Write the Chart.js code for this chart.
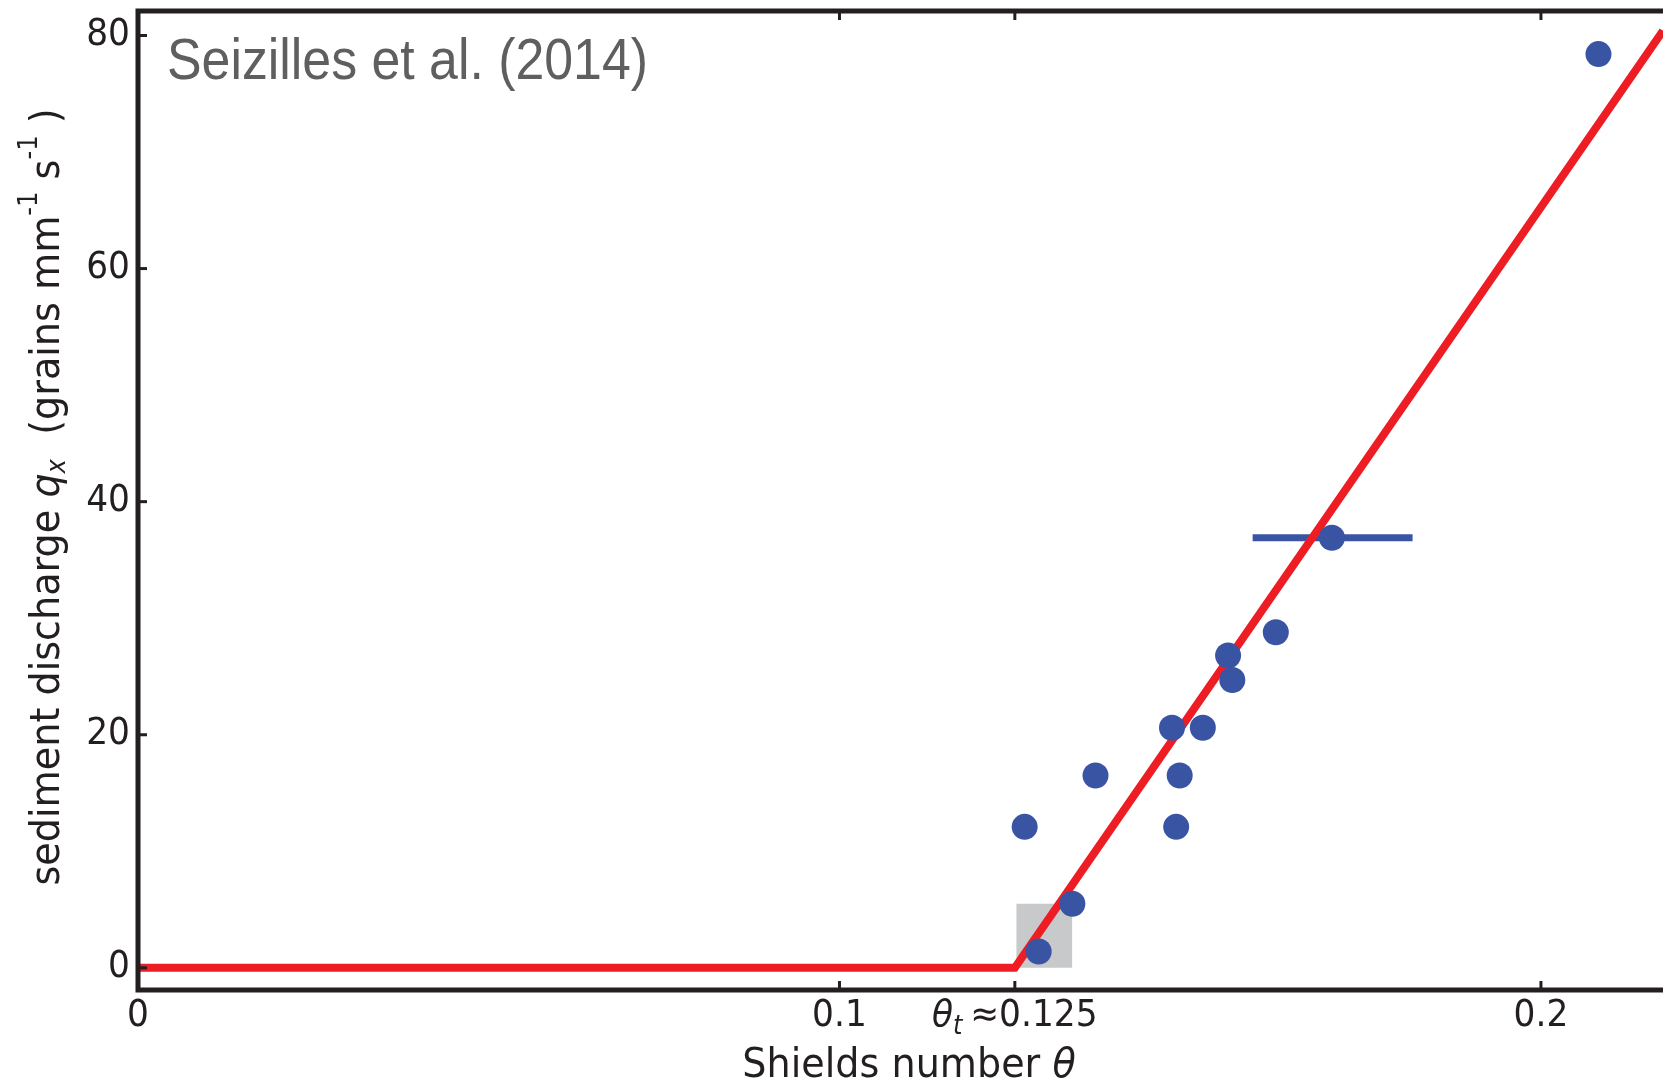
<!DOCTYPE html>
<html>
<head>
<meta charset="utf-8">
<script src="https://cdn.jsdelivr.net/npm/chart.js@4/dist/chart.umd.min.js"></script>
<style>
  body { margin: 0; background: #fff; }
  canvas { display: block; }
</style>
</head>
<body>
<canvas id="shields" width="1663" height="1088"></canvas>
<script>
// measured points (Shields number, sediment discharge)
const thetaVals = [0.2082, 0.1702, 0.1622, 0.1554, 0.1560, 0.1474, 0.1518, 0.1485, 0.1365, 0.1264, 0.1480, 0.1332, 0.1284];
const qxVals    = [78.4,   36.9,   28.8,   26.8,   24.7,   20.6,   20.6,   16.5,   16.5,   12.1,   12.1,   5.5,    1.4];

// threshold model line
const fitTheta = [0, 0.125, 0.2174];
const fitQ     = [0, 0, 80.4];

// horizontal error bar on one point
const errTheta = [0.1589, 0.1817];
const errQ     = [36.9, 36.9];

// grey box near threshold
const boxTheta = [0.1252, 0.1332];
const boxQ     = [5.5, 5.5];

const xTicks = [0, 0.1, 0.125, 0.2];
const yTicks = [0, 20, 40, 60, 80];
const yTickLabels = ['0', '20', '40', '60', '80'];

const AXIS = '#231f20';
const TICK_FONT = 37;
const SQUASH = 0.93;

function runsWidth(ctx, runs) {
    let w = 0;
    runs.forEach(r => { ctx.font = r.font; w += ctx.measureText(r.text).width; });
    return w * SQUASH;
}

// draw a list of text runs (different fonts / offsets) centred on cx, baseline-middle at cy
function drawRuns(ctx, runs, cx, cy, align) {
    const total = runsWidth(ctx, runs);
    let x = align === 'right' ? cx - total : (align === 'left' ? cx : cx - total / 2);
    ctx.textBaseline = 'middle';
    ctx.textAlign = 'left';
    runs.forEach(r => {
        ctx.font = r.font;
        ctx.save();
        ctx.translate(x, cy + (r.dy || 0));
        ctx.scale(SQUASH, 1);
        ctx.fillStyle = r.color || AXIS;
        ctx.fillText(r.text, 0, 0);
        ctx.restore();
        x += ctx.measureText(r.text).width * SQUASH;
    });
}

const frame = {
    id: 'frame',
    afterDraw(chart) {
        const ctx = chart.ctx;
        const { left, right, top, bottom } = chart.chartArea;
        const xs = chart.scales.x, ys = chart.scales.y;
        ctx.save();
        ctx.strokeStyle = AXIS;
        ctx.lineWidth = 5;
        ctx.beginPath();
        ctx.moveTo(right + 3, top); ctx.lineTo(left, top); ctx.lineTo(left, bottom); ctx.lineTo(right + 3, bottom);
        ctx.stroke();

        ctx.lineWidth = 3;
        xTicks.forEach(v => {
            const px = xs.getPixelForValue(v);
            ctx.beginPath();
            ctx.moveTo(px, bottom); ctx.lineTo(px, bottom - 9);
            ctx.moveTo(px, top); ctx.lineTo(px, top + 9);
            ctx.stroke();
        });
        yTicks.forEach(v => {
            const py = ys.getPixelForValue(v);
            ctx.beginPath();
            ctx.moveTo(left, py); ctx.lineTo(left + 9, py);
            ctx.stroke();
        });

        const f = TICK_FONT + 'px "DejaVu Sans"';
        const fi = 'oblique ' + TICK_FONT + 'px "DejaVu Sans"';
        const fs = 'oblique 26px "DejaVu Sans"';
        const labY = bottom + 26;
        drawRuns(ctx, [{ text: '0', font: f }], xs.getPixelForValue(0), labY, 'center');
        drawRuns(ctx, [{ text: '0.1', font: f }], xs.getPixelForValue(0.1), labY, 'center');
        drawRuns(ctx, [{ text: '0.2', font: f }], xs.getPixelForValue(0.2), labY, 'center');
        drawRuns(ctx, [
            { text: 'θ', font: fi },
            { text: 't ', font: fs, dy: 11 },
            { text: '≈0.125', font: f }
        ], xs.getPixelForValue(0.125), labY, 'center');

        yTicks.forEach((v, i) => {
            drawRuns(ctx, [{ text: yTickLabels[i], font: f }], left - 8, ys.getPixelForValue(v), 'right');
        });

        // x title
        const tf = '41px "DejaVu Sans"';
        drawRuns(ctx, [
            { text: 'Shields number ', font: tf },
            { text: 'θ', font: 'oblique 41px "DejaVu Sans"' }
        ], 909, 1066, 'center');

        // y title, rotated
        ctx.save();
        ctx.translate(48, 497);
        ctx.rotate(-Math.PI / 2);
        const sup = '26px "DejaVu Sans"';
        drawRuns(ctx, [
            { text: 'sediment discharge ', font: tf },
            { text: 'q', font: 'oblique 41px "DejaVu Sans"' },
            { text: 'x', font: 'oblique 26px "DejaVu Sans"', dy: 10 },
            { text: '  (grains mm', font: tf },
            { text: '-1', font: sup, dy: -18 },
            { text: ' s', font: tf },
            { text: '-1', font: sup, dy: -18 },
            { text: ' )', font: tf }
        ], 0, 0, 'center');
        ctx.restore();

        // source note
        ctx.font = '58px "Liberation Sans"';
        const note = 'Seizilles et al. (2014)';
        const w = ctx.measureText(note).width;
        ctx.save();
        ctx.translate(167, 63);
        ctx.scale(481 / w, 1);
        ctx.fillStyle = '#5f5f5f';
        ctx.textBaseline = 'middle';
        ctx.textAlign = 'left';
        ctx.fillText(note, 0, 0);
        ctx.restore();

        ctx.restore();
    }
};

const pts = (xa, ya) => xa.map((x, i) => ({ x: x, y: ya[i] }));

new Chart(document.getElementById('shields'), {
    type: 'scatter',
    data: {
        datasets: [
            {
                type: 'line',
                label: 'box',
                data: pts(boxTheta, boxQ),
                fill: 'origin',
                backgroundColor: '#c8c9cb',
                borderWidth: 0,
                pointRadius: 0,
                order: 5
            },
            {
                type: 'line',
                label: 'error',
                data: pts(errTheta, errQ),
                borderColor: '#3a54a4',
                borderWidth: 7,
                borderCapStyle: 'butt',
                pointRadius: 0,
                fill: false,
                order: 4
            },
            {
                type: 'line',
                label: 'fit',
                data: pts(fitTheta, fitQ),
                borderColor: '#ee1d23',
                borderWidth: 8,
                borderJoinStyle: 'miter',
                pointRadius: 0,
                fill: false,
                tension: 0,
                order: 3
            },
            {
                label: 'data',
                data: pts(thetaVals, qxVals),
                backgroundColor: '#3a54a4',
                borderWidth: 0,
                pointRadius: 13,
                order: 1
            }
        ]
    },
    options: {
        responsive: false,
        animation: false,
        devicePixelRatio: 1,
        layout: { autoPadding: false, padding: { top: 11, right: 0, left: 0, bottom: 0 } },
        plugins: { legend: { display: false }, tooltip: { enabled: false } },
        scales: {
            x: {
                type: 'linear',
                min: 0,
                max: 0.2174,
                grid: { display: false },
                border: { display: false },
                ticks: { display: false },
                afterBuildTicks: s => { s.ticks = xTicks.map(v => ({ value: v })); },
                afterFit: s => { s.height = 98; }
            },
            y: {
                type: 'linear',
                min: -1.9,
                max: 82.1,
                grid: { display: false },
                border: { display: false },
                ticks: { display: false },
                afterBuildTicks: s => { s.ticks = yTicks.map(v => ({ value: v })); },
                afterFit: s => { s.width = 138; }
            }
        }
    },
    plugins: [frame]
});
</script>
</body>
</html>
